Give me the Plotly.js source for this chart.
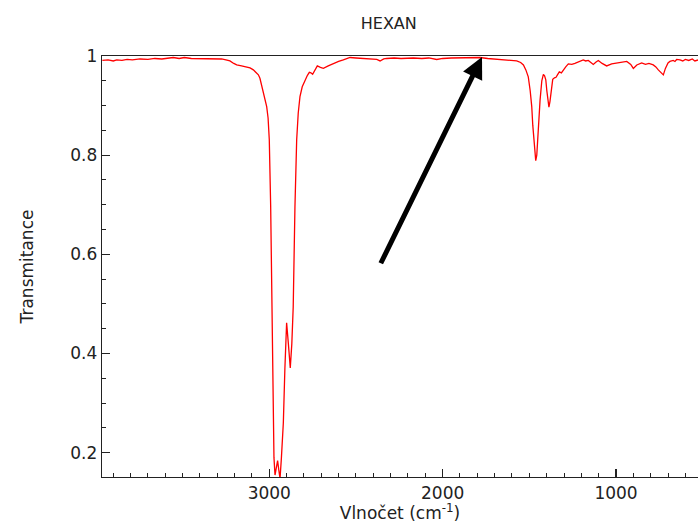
<!DOCTYPE html>
<html>
<head>
<meta charset="utf-8">
<script src="https://cdn.plot.ly/plotly-3.0.1.min.js"></script>
<style>html,body{margin:0;padding:0;background:#fff;}#chart{width:698px;height:523px;}</style>
</head>
<body>
<div id="chart"></div>
<script>
// Wavenumber (cm-1) and transmittance
const wavenumber = [
 3963,3930,3900,3880,3850,3820,3790,3746,3700,3660,3620,3590,3554,3520,3490,3450,3400,3360,3320,3275,
 3250,3227,3205,3188,3160,3130,3111,3092,3075,3063,3054,3045,3035,3025,3015,3007,3000,2992,2986,2980,
 2973,2967,2960,2952,2945,2938,2930,2919,2910,2900,2890,2879,2870,2862,2852,2842,2833,2823,2810,2794,
 2780,2769,2760,2750,2737,2723,2705,2688,2660,2631,2600,2573,2534,2500,2458,2420,2380,2361,2340,2323,
 2280,2240,2200,2169,2120,2080,2034,2000,1950,1881,1830,1785,1740,1700,1669,1620,1573,1550,1534,1520,
 1506,1495,1486,1480,1473,1463,1457,1452,1445,1438,1428,1419,1412,1405,1399,1394,1387,1381,1375,1365,
 1355,1346,1336,1327,1315,1304,1290,1275,1255,1237,1210,1189,1175,1160,1145,1131,1115,1102,1080,1054,
 1025,997,970,938,915,900,880,852,830,810,785,770,756,740,727,715,700,689,670,660,
 650,631,615,600,580,560,545,527
];
const transmittance = [
 0.991,0.992,0.990,0.992,0.991,0.993,0.992,0.994,0.993,0.995,0.994,0.996,0.997,0.995,0.997,0.995,0.995,0.994,0.995,0.994,
 0.992,0.990,0.985,0.982,0.980,0.978,0.976,0.972,0.967,0.962,0.955,0.942,0.925,0.915,0.898,0.875,0.831,0.696,0.494,0.293,
 0.190,0.155,0.168,0.184,0.165,0.148,0.190,0.260,0.370,0.462,0.420,0.371,0.420,0.494,0.696,0.831,0.885,0.918,0.938,0.952,
 0.961,0.967,0.966,0.963,0.972,0.980,0.977,0.975,0.980,0.985,0.989,0.992,0.997,0.996,0.995,0.994,0.993,0.990,0.994,0.995,
 0.996,0.995,0.996,0.996,0.995,0.996,0.993,0.995,0.996,0.996,0.997,0.997,0.995,0.994,0.993,0.992,0.990,0.987,0.982,0.972,
 0.958,0.930,0.898,0.860,0.831,0.789,0.800,0.831,0.875,0.911,0.950,0.963,0.960,0.952,0.930,0.911,0.897,0.908,0.925,0.953,
 0.956,0.957,0.963,0.968,0.966,0.972,0.978,0.984,0.983,0.985,0.989,0.992,0.990,0.991,0.987,0.983,0.988,0.991,0.985,0.980,
 0.984,0.986,0.988,0.989,0.983,0.975,0.982,0.986,0.983,0.985,0.982,0.978,0.972,0.966,0.962,0.975,0.986,0.989,0.991,0.989,
 0.993,0.992,0.990,0.993,0.991,0.994,0.990,0.992
];
const xTickVals = [3000, 2000, 1000];
const xTickText = ['3000', '2000', '1000'];
const yTickVals = [0.2, 0.4, 0.6, 0.8, 1];
const yTickText = ['0.2', '0.4', '0.6', '0.8', '1'];
const arrowTip = {wn: 1773, t: 0.998};
const arrowTail = {wn: 2361, t: 0.579};

const font = {family: 'DejaVu Sans, sans-serif', size: 17, color: '#222'};

const trace = {
  x: wavenumber, y: transmittance, type: 'scatter', mode: 'lines',
  line: {color: 'rgb(255,0,0)', width: 1.3}, hoverinfo: 'x+y'
};

const layout = {
  width: 698, height: 523,
  margin: {l: 102, r: 0, t: 56, b: 46},
  paper_bgcolor: '#fff', plot_bgcolor: '#fff',
  showlegend: false,
  font: font,
  title: {text: 'HEXAN', font: {family: font.family, size: 16, color: '#222'},
          xref: 'container', x: 0.557, xanchor: 'center',
          yref: 'container', y: 0.956, yanchor: 'middle'},
  xaxis: {
    range: [3965, 527], showgrid: false, zeroline: false,
    showline: true, linecolor: '#222', linewidth: 1.3, mirror: true,
    ticks: 'inside', ticklen: 8, tickwidth: 1.2, tickcolor: '#222',
    tickvals: xTickVals, ticktext: xTickText, tickfont: font,
    minor: {dtick: 100, tick0: 0, ticks: 'inside', ticklen: 4, tickwidth: 1, tickcolor: '#222'},
    title: {text: 'Vlnočet (cm<sup>-1</sup>)', font: font, standoff: 5}
  },
  yaxis: {
    range: [0.151, 1.0], showgrid: false, zeroline: false,
    showline: true, linecolor: '#222', linewidth: 1.3, mirror: false,
    ticks: 'inside', ticklen: 8, tickwidth: 1.2, tickcolor: '#222',
    tickvals: yTickVals, ticktext: yTickText, tickfont: font,
    minor: {dtick: 0.05, tick0: 0, ticks: 'inside', ticklen: 4, tickwidth: 1, tickcolor: '#222'},
    title: {text: 'Transmitance', font: font, standoff: 32}
  },
  annotations: [{
    x: arrowTip.wn, y: arrowTip.t, xref: 'x', yref: 'y',
    ax: arrowTail.wn, ay: arrowTail.t, axref: 'x', ayref: 'y',
    text: '', showarrow: true, arrowhead: 2, arrowsize: 0.85, arrowwidth: 5,
    arrowcolor: '#000', standoff: 0, startstandoff: 0
  }]
};

Plotly.newPlot('chart', [trace], layout, {displayModeBar: false, staticPlot: true});
</script>
</body>
</html>
